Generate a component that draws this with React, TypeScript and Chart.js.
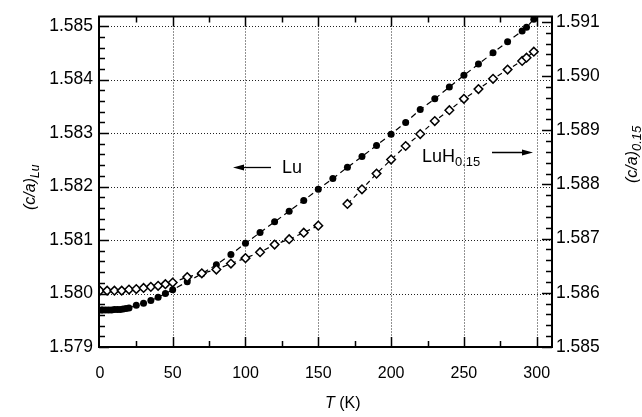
import React, { useEffect, useRef } from "react";
import { Chart, registerables } from "chart.js";

Chart.register(...registerables);

// ---- data ----
const luT = [1, 2, 4, 6, 8, 10, 12, 14, 16, 18, 20, 25, 30, 35, 40, 45, 50, 60, 70, 80, 90, 100, 110, 120, 130, 140, 150, 160, 170, 180, 190, 200, 210, 220, 230, 240, 250, 260, 270, 280, 290, 293, 298];
const luV = [1.57969, 1.57969, 1.57969, 1.57969, 1.57969, 1.5797, 1.5797, 1.5797, 1.57971, 1.57972, 1.57973, 1.57978, 1.57982, 1.57987, 1.57993, 1.58, 1.58007, 1.58022, 1.58037, 1.58054, 1.58073, 1.58094, 1.58114, 1.58134, 1.58154, 1.58174, 1.58195, 1.58215, 1.58236, 1.58256, 1.58277, 1.58298, 1.5832, 1.58344, 1.58364, 1.58386, 1.58408, 1.58429, 1.5845, 1.58471, 1.58491, 1.58498, 1.58513];

const luhT1 = [0, 5, 10, 15, 20, 25, 30, 35, 40, 45, 50, 60, 70, 80, 90, 100, 110, 120, 130, 140, 150];
const luhV1 = [1.58604, 1.58604, 1.58604, 1.58604, 1.58606, 1.58607, 1.58609, 1.58611, 1.58613, 1.58616, 1.58619, 1.58629, 1.58636, 1.58643, 1.58654, 1.58664, 1.58675, 1.58689, 1.58699, 1.58711, 1.58724];

const luhT2 = [170, 180, 190, 200, 210, 220, 230, 240, 250, 260, 270, 280, 290, 293, 298];
const luhV2 = [1.58764, 1.58791, 1.5882, 1.58846, 1.58871, 1.58893, 1.58917, 1.58937, 1.58958, 1.58976, 1.58995, 1.59012, 1.59028, 1.59034, 1.59045];

const xTicks = [0, 50, 100, 150, 200, 250, 300];
const xMinor = [25, 75, 125, 175, 225, 275];
const yLeftTicks = [1.579, 1.58, 1.581, 1.582, 1.583, 1.584, 1.585];
const yRightTicks = [1.585, 1.586, 1.587, 1.588, 1.589, 1.59, 1.591];

const FONT = "'Liberation Sans', Arial, Helvetica, sans-serif";

function minorsOf(majors: number[]) {
  const out: number[] = [];
  for (let i = 0; i < majors.length - 1; i++) {
    for (let k = 1; k < 5; k++) out.push(majors[i] + ((majors[i + 1] - majors[i]) * k) / 5);
  }
  return out;
}

function drawParts(ctx: CanvasRenderingContext2D, parts: { t: string; f: string; dy: number }[], x: number, y: number) {
  let cx = x;
  for (const p of parts) {
    ctx.font = p.f;
    ctx.fillText(p.t, cx, y + p.dy);
    cx += ctx.measureText(p.t).width;
  }
}

const deco = {
  id: "deco",
  beforeDatasetsDraw(chart: any) {
    const { ctx, chartArea: a, scales } = chart;
    ctx.save();
    ctx.strokeStyle = "#222";
    ctx.lineWidth = 1;
    ctx.setLineDash([1, 2]);
    for (const t of xTicks) {
      if (t === 0) continue;
      const x = Math.round(scales.x.getPixelForValue(t)) + 0.5;
      ctx.beginPath();
      ctx.moveTo(x, a.top);
      ctx.lineTo(x, a.bottom);
      ctx.stroke();
    }
    for (const v of yLeftTicks) {
      if (v === yLeftTicks[0]) continue;
      const y = Math.round(scales.y.getPixelForValue(v)) + 0.5;
      ctx.beginPath();
      ctx.moveTo(a.left, y);
      ctx.lineTo(a.right, y);
      ctx.stroke();
    }
    ctx.restore();
  },
  afterDraw(chart: any) {
    const { ctx, chartArea: a, scales } = chart;
    ctx.save();
    ctx.setLineDash([]);
    ctx.strokeStyle = "#000";
    ctx.fillStyle = "#000";
    // frame
    ctx.lineWidth = 2;
    ctx.strokeRect(a.left, a.top, a.right - a.left, a.bottom - a.top);
    // ticks
    ctx.lineWidth = 1.5;
    const MAJ = 10, MIN = 6;
    const xt = (vals: number[], len: number) => {
      for (const t of vals) {
        const x = Math.round(scales.x.getPixelForValue(t)) + 0.5;
        ctx.beginPath();
        ctx.moveTo(x, a.bottom);
        ctx.lineTo(x, a.bottom - len);
        ctx.moveTo(x, a.top);
        ctx.lineTo(x, a.top + len);
        ctx.stroke();
      }
    };
    xt(xTicks.slice(1, -0 || undefined), MAJ);
    xt(xMinor, MIN);
    const yt = (scale: any, vals: number[], len: number, left: boolean) => {
      for (const v of vals) {
        const y = Math.round(scale.getPixelForValue(v)) + 0.5;
        ctx.beginPath();
        if (left) {
          ctx.moveTo(a.left, y);
          ctx.lineTo(a.left + len, y);
        } else {
          ctx.moveTo(a.right, y);
          ctx.lineTo(a.right - len, y);
        }
        ctx.stroke();
      }
    };
    yt(scales.y, yLeftTicks, MAJ, true);
    yt(scales.y, minorsOf(yLeftTicks), MIN, true);
    yt(scales.y2, yRightTicks, MAJ, false);
    yt(scales.y2, minorsOf(yRightTicks), MIN, false);

    // axis titles
    ctx.textBaseline = "alphabetic";
    ctx.textAlign = "left";
    drawParts(ctx, [
      { t: "T", f: `italic 16px ${FONT}`, dy: 0 },
      { t: " (K)", f: `16px ${FONT}`, dy: 0 },
    ], 325, 408);

    ctx.save();
    ctx.translate(35, 210);
    ctx.rotate(-Math.PI / 2);
    drawParts(ctx, [
      { t: "(c/a)", f: `italic 16px ${FONT}`, dy: 0 },
      { t: "Lu", f: `italic 12px ${FONT}`, dy: 4 },
    ], 0, 0);
    ctx.restore();

    ctx.save();
    ctx.translate(637, 183);
    ctx.rotate(-Math.PI / 2);
    drawParts(ctx, [
      { t: "(c/a)", f: `italic 16px ${FONT}`, dy: 0 },
      { t: "0.15", f: `italic 13px ${FONT}`, dy: 4 },
    ], 0, 0);
    ctx.restore();

    // annotations
    drawParts(ctx, [{ t: "Lu", f: `18px ${FONT}`, dy: 0 }], 282, 173);
    drawParts(ctx, [
      { t: "LuH", f: `18px ${FONT}`, dy: 0 },
      { t: "0.15", f: `13px ${FONT}`, dy: 4 },
    ], 422, 162);

    const arrow = (x1: number, x2: number, y: number) => {
      ctx.lineWidth = 1.3;
      const dir = Math.sign(x2 - x1);
      ctx.beginPath();
      ctx.moveTo(x1, y);
      ctx.lineTo(x2 - dir * 8, y);
      ctx.stroke();
      ctx.beginPath();
      ctx.moveTo(x2, y);
      ctx.lineTo(x2 - dir * 11, y - 3);
      ctx.lineTo(x2 - dir * 11, y + 3);
      ctx.closePath();
      ctx.fill();
    };
    arrow(271, 233, 167.5);
    arrow(492, 533, 152.5);
    ctx.restore();
  },
};

export default function App() {
  const ref = useRef<HTMLCanvasElement | null>(null);
  useEffect(() => {
    if (!ref.current) return;
    const mk = (ts: number[], vs: number[]) => ts.map((t, i) => ({ x: t, y: vs[i] }));
    const luhStyle = {
      yAxisID: "y2",
      borderColor: "#000",
      borderWidth: 1.2,
      borderDash: [5, 4],
      pointStyle: "rectRot",
      pointRadius: 4.3,
      pointBackgroundColor: "#fff",
      pointBorderColor: "#000",
      pointBorderWidth: 1.5,
      tension: 0,
      fill: false,
    };
    const chart = new Chart(ref.current, {
      type: "line",
      data: {
        datasets: [
          { label: "LuH0.15 a", data: mk(luhT1, luhV1), ...luhStyle } as any,
          { label: "LuH0.15 b", data: mk(luhT2, luhV2), ...luhStyle } as any,
          {
            label: "Lu",
            data: mk(luT, luV),
            yAxisID: "y",
            borderColor: "#000",
            borderWidth: 1.2,
            borderDash: [6, 4],
            pointStyle: "circle",
            pointRadius: 3.5,
            pointBackgroundColor: "#000",
            pointBorderColor: "#000",
            pointBorderWidth: 0,
            tension: 0,
            fill: false,
          } as any,
        ],
      },
      options: {
        responsive: false,
        animation: false,
        devicePixelRatio: 1,
        layout: { padding: { top: 12, left: 0, right: 0, bottom: 0 } },
        plugins: { legend: { display: false }, tooltip: { enabled: false } },
        scales: {
          x: {
            type: "linear",
            min: -0.6,
            max: 310.5,
            afterBuildTicks: (s: any) => { s.ticks = xTicks.map((v) => ({ value: v })); },
            afterFit: (s: any) => { s.height = 70; },
            ticks: { font: { family: FONT, size: 16 }, color: "#000", padding: 17, autoSkip: false, maxRotation: 0, callback: (v: any) => String(v) },
            grid: { display: false, drawTicks: false },
            border: { display: false },
          },
          y: {
            type: "linear",
            position: "left",
            min: 1.579,
            max: 1.58518,
            afterBuildTicks: (s: any) => { s.ticks = yLeftTicks.map((v) => ({ value: v })); },
            afterFit: (s: any) => { s.width = 99; },
            ticks: { font: { family: FONT, size: 17.5 }, color: "#000", padding: 6, autoSkip: false, callback: (v: any) => Number(v).toFixed(3) },
            grid: { display: false, drawTicks: false },
            border: { display: false },
          },
          y2: {
            type: "linear",
            position: "right",
            min: 1.585,
            max: 1.5911,
            afterBuildTicks: (s: any) => { s.ticks = yRightTicks.map((v) => ({ value: v })); },
            afterFit: (s: any) => { s.width = 90; },
            ticks: { font: { family: FONT, size: 17.5 }, color: "#000", padding: 4, autoSkip: false, callback: (v: any) => Number(v).toFixed(3) },
            grid: { display: false, drawTicks: false },
            border: { display: false },
          },
        },
      },
      plugins: [deco],
    } as any);
    return () => chart.destroy();
  }, []);
  return (
    <div style={{ position: "absolute", left: 0, top: 0, width: 642, height: 417, background: "#fff" }}>
      <canvas ref={ref} width={642} height={417} style={{ display: "block" }} />
    </div>
  );
}
